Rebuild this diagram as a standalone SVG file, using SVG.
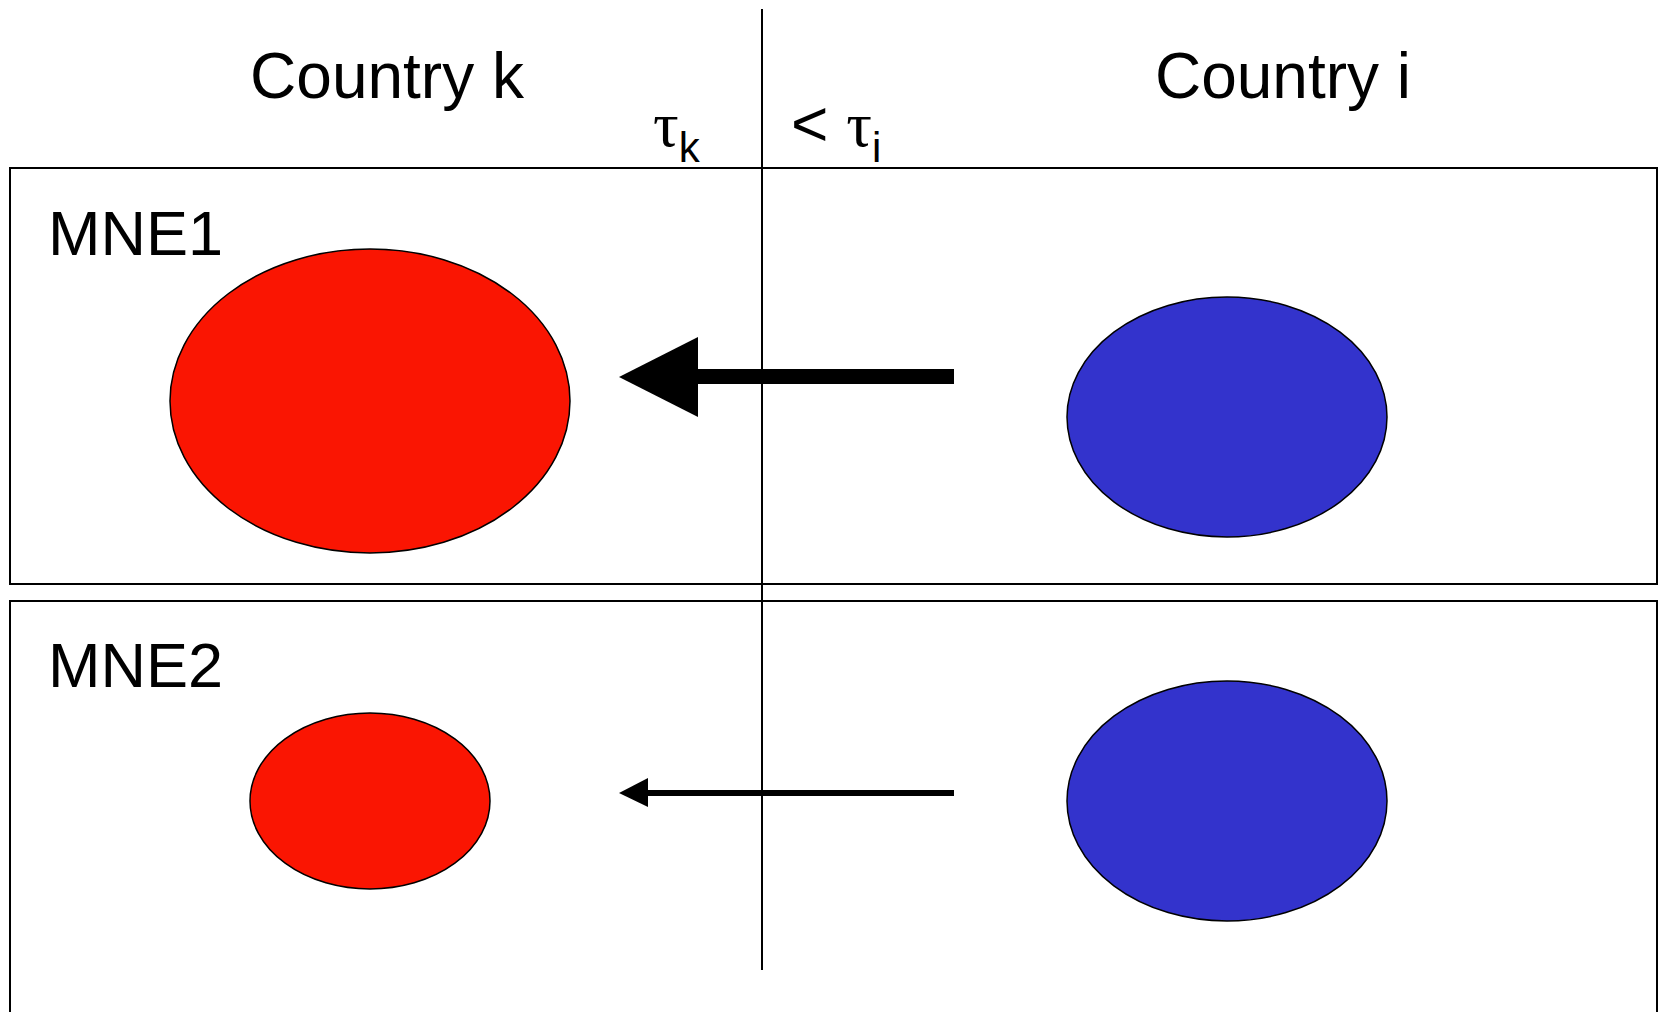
<svg xmlns="http://www.w3.org/2000/svg" width="1658" height="1012" viewBox="0 0 1658 1012">
<style>
.t{font-family:"Liberation Sans",Arial,sans-serif;fill:#000}
.g{font-family:"Liberation Serif","Times New Roman",serif}
.box{fill:none;stroke:#000;stroke-width:2}
.red{fill:#FA1502;stroke:#000;stroke-width:1.5}
.blue{fill:#3333CC;stroke:#000;stroke-width:1.5}
</style>
<rect width="1658" height="1012" fill="#fff"/>
<g id="panel-mne1"><rect class="box" x="10" y="168" width="1647" height="416"/><text class="t" x="48" y="255" font-size="63">MNE1</text></g>
<g id="panel-mne2"><rect class="box" x="10" y="601" width="1647" height="430"/><text class="t" x="48" y="687" font-size="63">MNE2</text></g>
<g id="divider"><line x1="762" y1="9" x2="762" y2="970" stroke="#000" stroke-width="2"/></g>
<g id="header-k"><text class="t" x="387" y="98" font-size="64" text-anchor="middle">Country k</text></g>
<g id="header-i"><text class="t" x="1283" y="98" font-size="64" text-anchor="middle">Country i</text></g>
<g id="tau-k"><text class="t" x="653" y="146" font-size="64"><tspan class="g">τ</tspan><tspan font-size="42" dy="16">k</tspan></text></g>
<g id="tau-i"><text class="t" x="791" y="146" font-size="64">&lt; <tspan class="g">τ</tspan><tspan font-size="42" dy="16">i</tspan></text></g>
<g id="mne1-k"><ellipse class="red" cx="370" cy="401" rx="200" ry="152"/></g>
<g id="mne1-i"><ellipse class="blue" cx="1227" cy="417" rx="160" ry="120"/></g>
<g id="mne2-k"><ellipse class="red" cx="370" cy="801" rx="120" ry="88"/></g>
<g id="mne2-i"><ellipse class="blue" cx="1227" cy="801" rx="160" ry="120"/></g>
<g id="connectors">
<rect x="697" y="369" width="257" height="15" fill="#000"/>
<polygon points="619,377 698,337 698,417" fill="#000"/>
<rect x="646" y="790" width="308" height="6" fill="#000"/>
<polygon points="619,793 648,778 648,807" fill="#000"/>
</g>
</svg>
